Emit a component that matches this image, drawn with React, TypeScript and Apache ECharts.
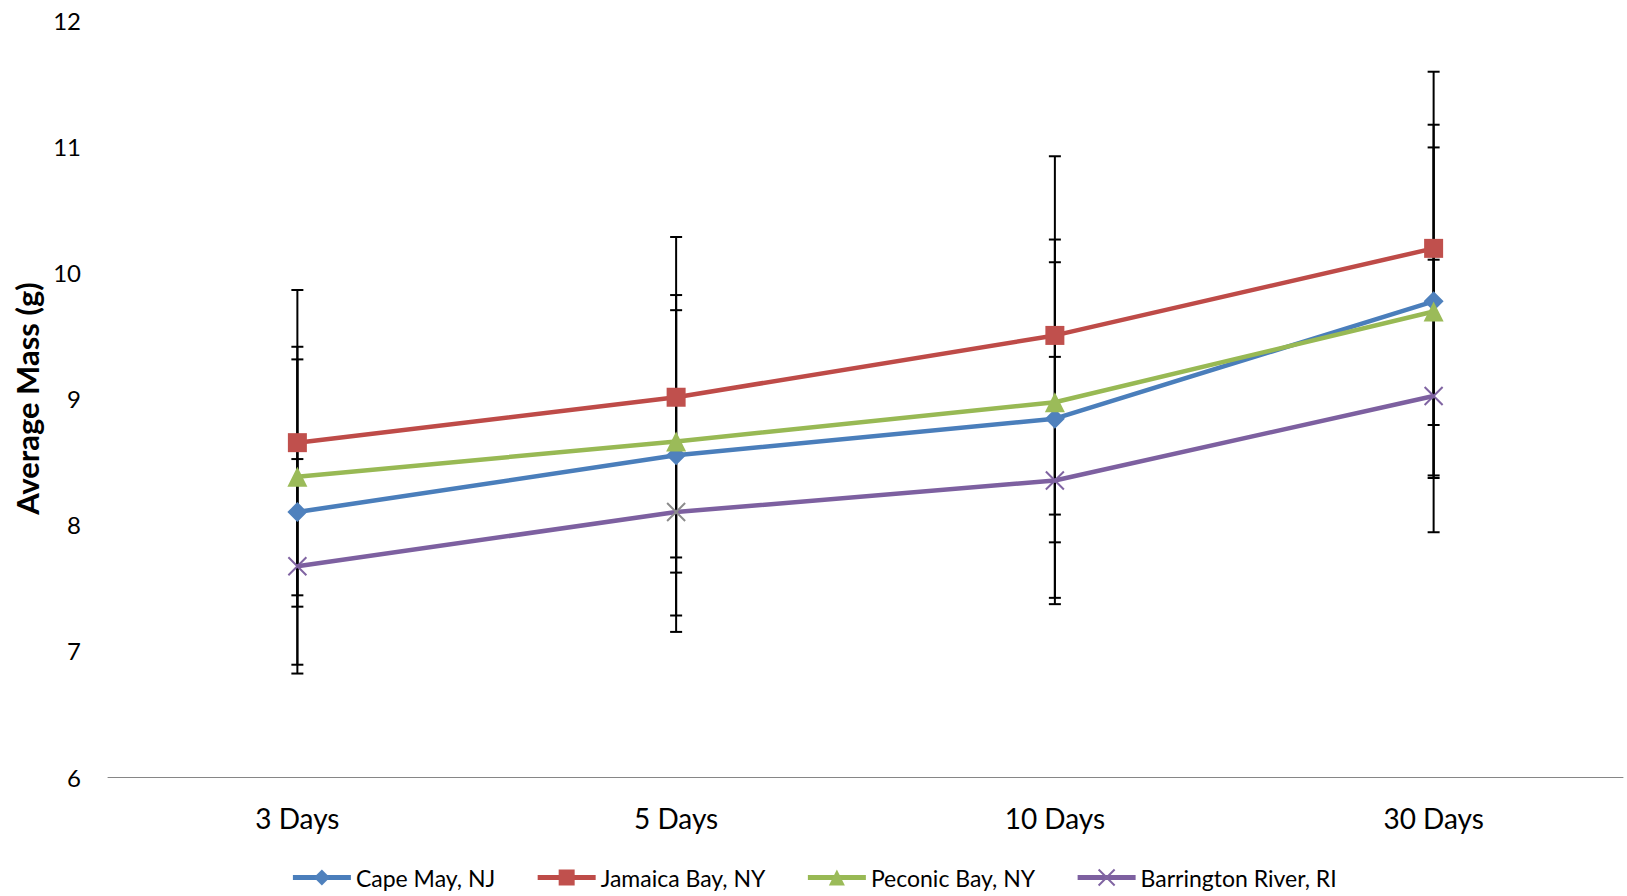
import React, { useEffect, useRef } from "react";
import * as echarts from "echarts";

// Sampling times
const categories = ["3 Days", "5 Days", "10 Days", "30 Days"];

// Average mass (g) per site
const capeMay = [8.1, 8.55, 8.84, 9.77];
const jamaicaBay = [8.65, 9.01, 9.5, 10.19];
const peconicBay = [8.38, 8.66, 8.97, 9.69];
const barrington = [7.67, 8.1, 8.35, 9.02];

// Error bar half-widths (g)
const capeMayErr = [1.21, 1.27, 1.42, 1.4];
const jamaicaBayErr = [1.21, 1.27, 1.42, 1.4];
const peconicBayErr = [1.03, 1.04, 1.11, 1.3];
const barringtonErr = [0.85, 0.95, 0.98, 1.08];

const yTicks = { min: 6, max: 12, interval: 1 };

const FONT = "Lato, 'Open Sans', sans-serif";

const seriesDefs = [
  { name: "Cape May, NJ", values: capeMay, err: capeMayErr, line: "#4A7EBB", fill: "#4F81BD", symbol: "diamond", size: 20 },
  { name: "Jamaica Bay, NY", values: jamaicaBay, err: jamaicaBayErr, line: "#BE4B48", fill: "#C0504D", symbol: "rect", size: 19 },
  { name: "Peconic Bay, NY", values: peconicBay, err: peconicBayErr, line: "#98B954", fill: "#9BBB59", symbol: "triangle", size: 20 },
  { name: "Barrington River, RI", values: barrington, err: barringtonErr, line: "#7D60A0", fill: "#8064A2", symbol: "path://M0 0L10 10M10 0L0 10", size: 18 },
];

function errorBarItem(params: any, api: any) {
  const x = api.value(0);
  const lo = api.coord([x, api.value(1)]);
  const hi = api.coord([x, api.value(2)]);
  const cap = 6;
  const style = { stroke: "#000", lineWidth: 2 };
  return {
    type: "group",
    children: [
      { type: "line", shape: { x1: lo[0], y1: lo[1], x2: hi[0], y2: hi[1] }, style },
      { type: "line", shape: { x1: lo[0] - cap, y1: lo[1], x2: lo[0] + cap, y2: lo[1] }, style },
      { type: "line", shape: { x1: hi[0] - cap, y1: hi[1], x2: hi[0] + cap, y2: hi[1] }, style },
    ],
  };
}

export default function App() {
  const ref = useRef<HTMLDivElement>(null);

  useEffect(() => {
    if (!ref.current) return;
    const chart = echarts.init(ref.current, null, { renderer: "svg" });

    const errorSeries = seriesDefs.map((s) => ({
      type: "custom",
      name: s.name + " error",
      renderItem: errorBarItem,
      encode: { x: 0, y: [1, 2] },
      data: s.values.map((v, i) => [i, v - s.err[i], v + s.err[i]]),
      z: 1,
      silent: true,
    }));

    const lineSeries = seriesDefs.map((s) => {
      const isCross = s.symbol.startsWith("path://");
      return {
        type: "line",
        name: s.name,
        data: s.values.map((v, i) =>
          isCross && i === 1
            ? { value: v, itemStyle: { borderColor: "#8C8C8C", color: "#8C8C8C" } }
            : v
        ),
        symbol: s.symbol,
        symbolSize: s.size,
        showAllSymbol: true,
        lineStyle: { color: s.line, width: 4.5 },
        itemStyle: isCross
          ? { color: s.fill, borderColor: s.fill, borderWidth: 2 }
          : { color: s.fill, borderWidth: 0 },
        z: 3,
      };
    });

    chart.setOption({
      animation: false,
      backgroundColor: "#fff",
      grid: { left: 108, right: 4, top: 20, bottom: 119, containLabel: false },
      legend: {
        data: seriesDefs.map((s) => s.name),
        bottom: 2,
        left: "center",
        itemWidth: 58,
        itemHeight: 20,
        itemGap: 40,
        lineStyle: { width: 5 },
        textStyle: { fontFamily: FONT, fontSize: 23, color: "#000" },
      },
      xAxis: {
        type: "category",
        data: categories,
        boundaryGap: true,
        axisLine: { lineStyle: { color: "#868686", width: 1 } },
        axisTick: { show: false },
        axisLabel: { fontFamily: FONT, fontSize: 28, color: "#000", margin: 27 },
      },
      yAxis: {
        type: "value",
        min: yTicks.min,
        max: yTicks.max,
        interval: yTicks.interval,
        name: "Average Mass (g)",
        nameLocation: "middle",
        nameGap: 62,
        nameTextStyle: { fontFamily: FONT, fontSize: 31, fontWeight: "bold", color: "#000" },
        axisLine: { show: false },
        axisTick: { show: false },
        splitLine: { show: false },
        axisLabel: { fontFamily: FONT, fontSize: 24, color: "#000", margin: 27 },
      },
      series: [...errorSeries, ...lineSeries],
    });

    return () => chart.dispose();
  }, []);

  return (
    <div
      ref={ref}
      style={{ position: "fixed", left: 0, top: 0, width: 1627, height: 896 }}
    />
  );
}
